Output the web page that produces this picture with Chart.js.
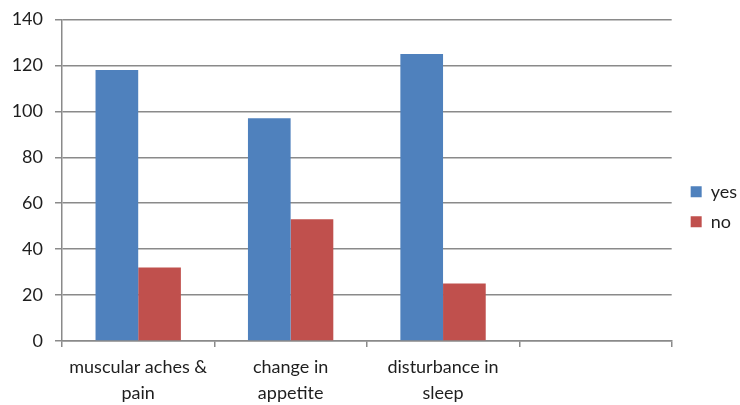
<!DOCTYPE html>
<html>
<head>
<meta charset="utf-8">
<script src="https://cdn.jsdelivr.net/npm/chart.js@4.4.1/dist/chart.umd.min.js"></script>
<style>
  html, body { margin: 0; padding: 0; background: #fff; }
  #wrap { width: 740px; height: 405px; }
</style>
</head>
<body>
<div id="wrap"><canvas id="c" width="740" height="405"></canvas></div>
<script>
// Symptom categories (the last slot is an empty category)
const categories = [
  ["muscular aches &", "pain"],
  ["change in", "appetite"],
  ["disturbance in", "sleep"],
  ""
];
const yesValues = [118, 97, 125, null];
const noValues = [32, 53, 25, null];
const yTicks = [0, 20, 40, 60, 80, 100, 120, 140];

const gridGrey = "#8a8a8a";
const textColor = "#1e1e1e";
const fontFamily = "Lato, 'Open Sans', sans-serif";

// Keep the legend a fixed gap to the right of the plot area, nudged up slightly
const legendGap = {
  id: "legendGap",
  afterLayout(chart) {
    const lg = chart.legend;
    if (!lg) return;
    const pad = lg.options.labels.padding;
    const dx = chart.chartArea.right + 19 - pad - lg.left;
    const dy = -5.5;
    lg.left += dx;
    lg.right += dx;
    lg.top += dy;
    lg.bottom += dy;
    if (lg.legendHitBoxes) lg.legendHitBoxes.forEach(b => { b.left += dx; b.top += dy; });
  }
};

new Chart(document.getElementById("c"), {
  type: "bar",
  data: {
    labels: categories,
    datasets: [
      { label: "yes", data: yesValues, backgroundColor: "#4F81BD", borderWidth: 0 },
      { label: "no", data: noValues, backgroundColor: "#C0504D", borderWidth: 0 }
    ]
  },
  plugins: [legendGap],
  options: {
    responsive: false,
    animation: false,
    devicePixelRatio: 1,
    layout: { padding: { top: 19.5, right: 0, left: 0, bottom: 0 } },
    datasets: { bar: { barPercentage: 1, categoryPercentage: 0.56 } },
    plugins: {
      tooltip: { enabled: false },
      legend: {
        position: "right",
        align: "center",
        labels: {
          boxWidth: 11,
          boxHeight: 11,
          color: textColor,
          font: { family: fontFamily, size: 18 },
          padding: 12
        }
      }
    },
    scales: {
      x: {
        afterFit: (scale) => { scale.height = 64; },
        grid: {
          offset: true,
          drawOnChartArea: false,
          drawTicks: true,
          tickLength: 6,
          color: gridGrey,
          lineWidth: 1.5
        },
        border: { color: gridGrey, width: 1.5 },
        ticks: {
          color: textColor,
          font: { family: fontFamily, size: 18, lineHeight: 1.45 },
          maxRotation: 0,
          autoSkip: false,
          padding: 7
        }
      },
      y: {
        min: 0,
        max: 140,
        afterFit: (scale) => { scale.width = 62; scale.paddingTop = 0; },
        afterBuildTicks: (scale) => { scale.ticks = yTicks.map(v => ({ value: v })); },
        grid: {
          color: gridGrey,
          lineWidth: 1.5,
          drawTicks: true,
          tickLength: 7
        },
        border: { color: gridGrey, width: 1.5 },
        ticks: {
          color: textColor,
          font: { family: fontFamily, size: 18 },
          padding: 12
        }
      }
    }
  }
});
</script>
</body>
</html>
